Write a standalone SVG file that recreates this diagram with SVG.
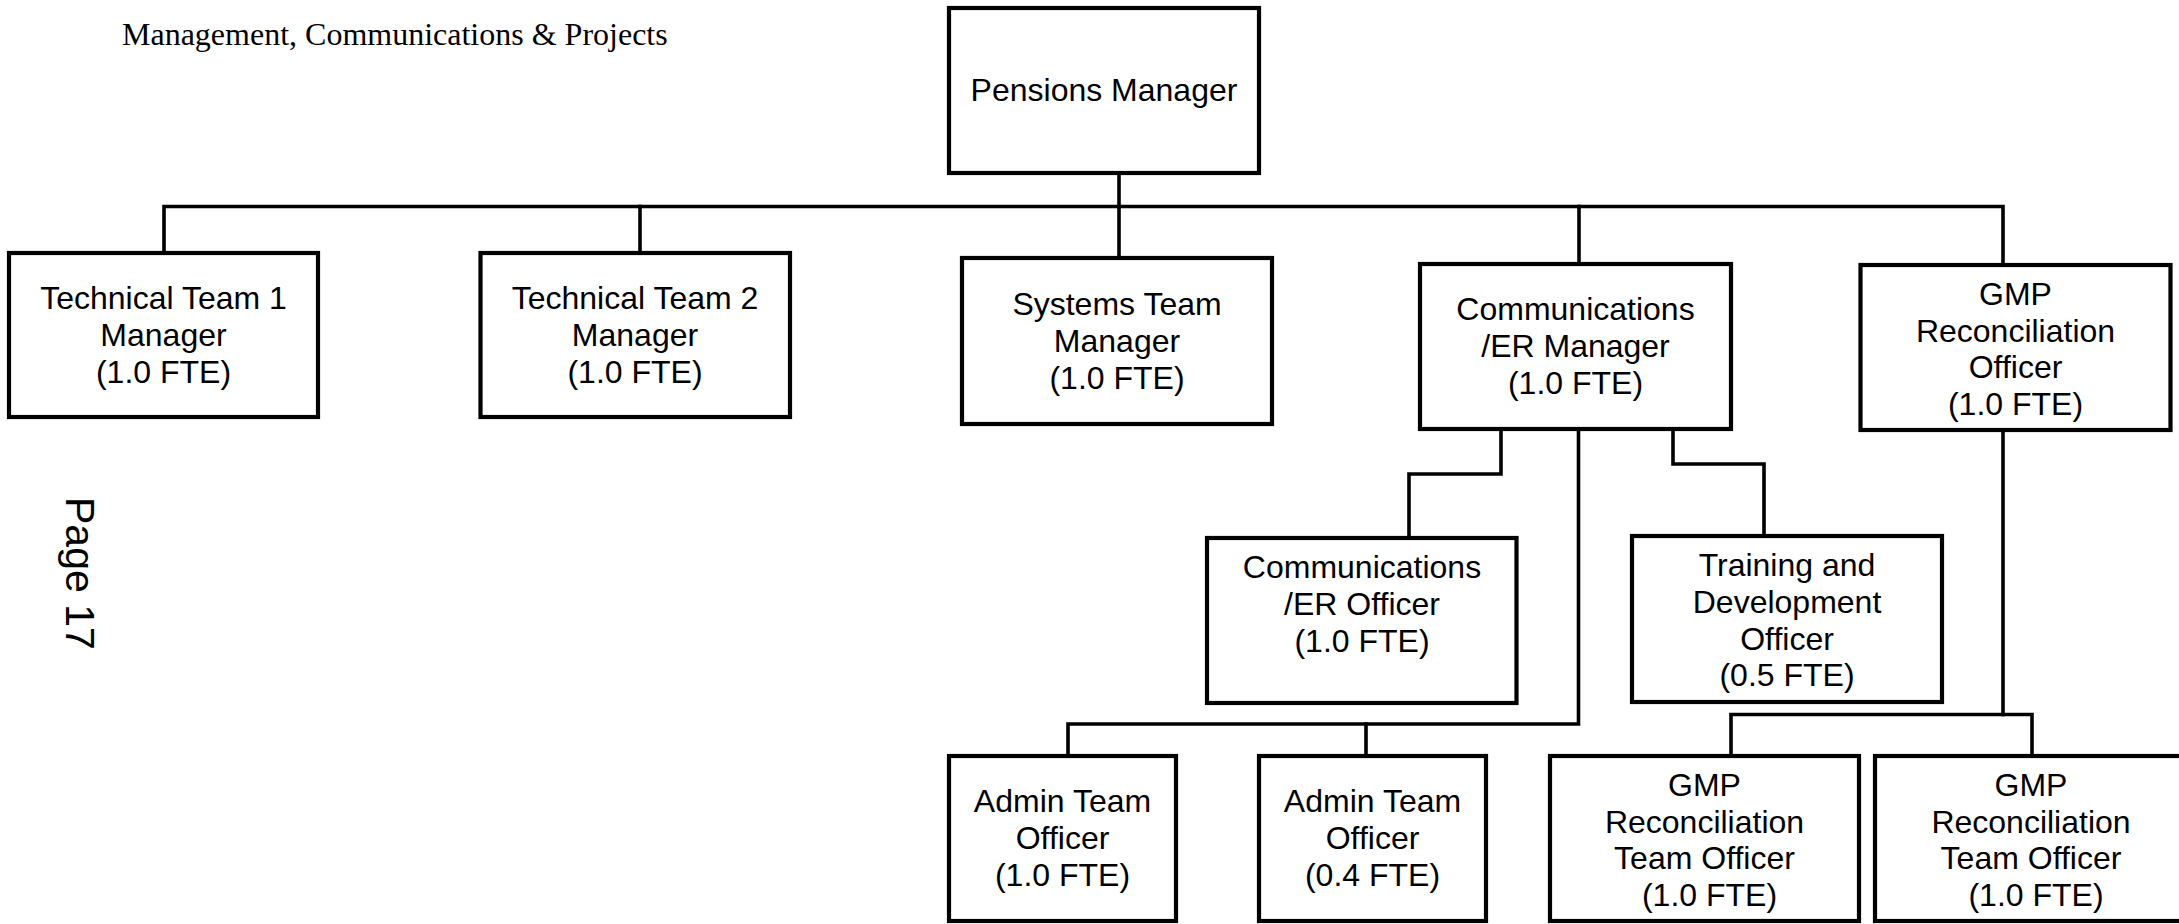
<svg xmlns="http://www.w3.org/2000/svg" width="2179" height="924" viewBox="0 0 2179 924">
  <style>
    .box { fill: #ffffff; stroke: #000000; stroke-width: 4.2; }
    .lbl { font-family: "Liberation Sans", Arial, sans-serif; font-size: 32px; fill: #000000; text-anchor: middle; }
    .wire { fill: none; stroke: #000000; stroke-width: 3.6; stroke-linecap: square; stroke-linejoin: miter; }
    .title { font-family: "Liberation Serif", "Times New Roman", serif; font-size: 32px; fill: #000000; }
    .page { font-family: "Liberation Sans", Arial, sans-serif; font-size: 41px; fill: #000000; }
  </style>
  <rect width="2179" height="924" fill="#ffffff"/>

  <text class="title" x="122" y="45">Management, Communications &amp; Projects</text>
  <text class="page" transform="translate(66,497) rotate(90)">Page 17</text>

  <g id="connectors">
    <!-- top level bus -->
    <path class="wire" d="M1119,173 V258"/>
    <path class="wire" d="M164,253 V206.5 H2003 V265"/>
    <path class="wire" d="M640,206.5 V253"/>
    <path class="wire" d="M1579,206.5 V264"/>
    <!-- communications manager reports -->
    <path class="wire" d="M1501,429 V474 H1409 V538"/>
    <path class="wire" d="M1673,429 V464 H1764 V536"/>
    <path class="wire" d="M1578.5,429 V724 H1068 V756"/>
    <path class="wire" d="M1366,724 V756"/>
    <!-- GMP reconciliation team -->
    <path class="wire" d="M2003,430 V714.5"/>
    <path class="wire" d="M1731,756 V714.5 H2032 V756"/>
  </g>

  <g id="pensions-manager">
    <rect class="box" x="949" y="8" width="310" height="165"/>
    <text class="lbl" x="1104" y="101">Pensions Manager</text>
  </g>

  <g id="technical-team-1">
    <rect class="box" x="9" y="253" width="309" height="164"/>
    <text class="lbl" x="163.5" y="309">Technical Team 1</text>
    <text class="lbl" x="163.5" y="346">Manager</text>
    <text class="lbl" x="163.5" y="383">(1.0 FTE)</text>
  </g>

  <g id="technical-team-2">
    <rect class="box" x="480.5" y="253" width="309.5" height="164"/>
    <text class="lbl" x="635" y="309">Technical Team 2</text>
    <text class="lbl" x="635" y="346">Manager</text>
    <text class="lbl" x="635" y="383">(1.0 FTE)</text>
  </g>

  <g id="systems-team">
    <rect class="box" x="962" y="258" width="310" height="166"/>
    <text class="lbl" x="1117" y="315">Systems Team</text>
    <text class="lbl" x="1117" y="352">Manager</text>
    <text class="lbl" x="1117" y="389">(1.0 FTE)</text>
  </g>

  <g id="communications-manager">
    <rect class="box" x="1420" y="264" width="311" height="165"/>
    <text class="lbl" x="1575.5" y="320">Communications</text>
    <text class="lbl" x="1575.5" y="357">/ER Manager</text>
    <text class="lbl" x="1575.5" y="394">(1.0 FTE)</text>
  </g>

  <g id="gmp-officer">
    <rect class="box" x="1860.5" y="265" width="310" height="165"/>
    <text class="lbl" x="2015.5" y="305">GMP</text>
    <text class="lbl" x="2015.5" y="341.5">Reconciliation</text>
    <text class="lbl" x="2015.5" y="378">Officer</text>
    <text class="lbl" x="2015.5" y="414.5">(1.0 FTE)</text>
  </g>

  <g id="communications-officer">
    <rect class="box" x="1207" y="538" width="309.5" height="165"/>
    <text class="lbl" x="1362" y="578">Communications</text>
    <text class="lbl" x="1362" y="615">/ER Officer</text>
    <text class="lbl" x="1362" y="652">(1.0 FTE)</text>
  </g>

  <g id="training-officer">
    <rect class="box" x="1632" y="536" width="310" height="166"/>
    <text class="lbl" x="1787" y="576">Training and</text>
    <text class="lbl" x="1787" y="613">Development</text>
    <text class="lbl" x="1787" y="650">Officer</text>
    <text class="lbl" x="1787" y="686">(0.5 FTE)</text>
  </g>

  <g id="admin-officer-1">
    <rect class="box" x="949" y="756" width="227" height="165"/>
    <text class="lbl" x="1062.5" y="812">Admin Team</text>
    <text class="lbl" x="1062.5" y="849">Officer</text>
    <text class="lbl" x="1062.5" y="886">(1.0 FTE)</text>
  </g>

  <g id="admin-officer-2">
    <rect class="box" x="1259" y="756" width="227" height="165"/>
    <text class="lbl" x="1372.5" y="812">Admin Team</text>
    <text class="lbl" x="1372.5" y="849">Officer</text>
    <text class="lbl" x="1372.5" y="886">(0.4 FTE)</text>
  </g>

  <g id="gmp-team-officer-1">
    <rect class="box" x="1550" y="756" width="309" height="165"/>
    <text class="lbl" x="1704.5" y="796">GMP</text>
    <text class="lbl" x="1704.5" y="833">Reconciliation</text>
    <text class="lbl" x="1704.5" y="869">Team Officer</text>
    <text class="lbl" x="1709.5" y="906">(1.0 FTE)</text>
  </g>

  <g id="gmp-team-officer-2">
    <rect class="box" x="1875" y="756" width="312" height="165"/>
    <text class="lbl" x="2031" y="796">GMP</text>
    <text class="lbl" x="2031" y="833">Reconciliation</text>
    <text class="lbl" x="2031" y="869">Team Officer</text>
    <text class="lbl" x="2036" y="906">(1.0 FTE)</text>
  </g>
</svg>
